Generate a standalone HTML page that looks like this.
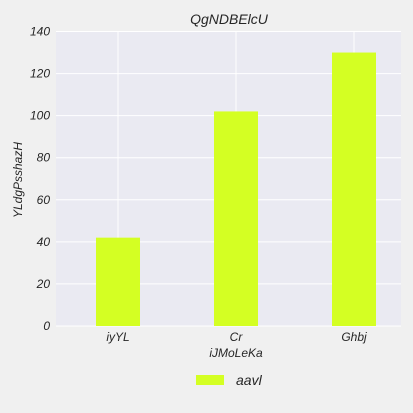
<!DOCTYPE html>
<html><head><meta charset="utf-8"><style>
html,body{margin:0;padding:0;background:#f0f0f0;overflow:hidden;width:413px;height:413px;}
svg{display:block;}
svg text{font-family:"Liberation Sans",sans-serif;font-style:italic;fill:#262626;}
</style></head><body>
<svg id="chart" width="413" height="413" xmlns="http://www.w3.org/2000/svg">
<rect x="0" y="0" width="413" height="413" fill="#f0f0f0"/>
<rect x="56" y="31.5" width="345" height="294.5" fill="#eaeaf2"/>
<g id="grid"></g><g id="bars"></g><g id="ticks"></g>
<text x="229" y="24" text-anchor="middle" font-size="14">QgNDBElcU</text>
<text x="236" y="357" text-anchor="middle" font-size="12">iJMoLeKa</text>
<text transform="translate(22,180) rotate(-90)" text-anchor="middle" font-size="12">YLdgPsshazH</text>
<rect x="196" y="375" width="28" height="10" fill="#d4ff23"/>
<text x="236" y="385" font-size="14">aavl</text>
</svg>
<script>
const categories=["iyYL","Cr","Ghbj"];
const values=[42,102,130];
const yTicks=[0,20,40,60,80,100,120,140];
const NS="http://www.w3.org/2000/svg";
function y(v){return 326-v*(294.5/140);}
function x(i){return 118+118*i;}
const grid=document.getElementById('grid'),bars=document.getElementById('bars'),ticks=document.getElementById('ticks');
function mk(tag,attrs,parent){const e=document.createElementNS(NS,tag);for(const k in attrs)e.setAttribute(k,attrs[k]);parent.appendChild(e);return e;}
yTicks.forEach(t=>{
  const l=mk('line',{x1:56,x2:401,y1:y(t),y2:y(t),stroke:'#ffffff','stroke-width':1},grid);
  
  
  const tx=mk('text',{x:50,y:y(t)+4,'text-anchor':'end','font-size':12},ticks);
  tx.textContent=t;
  
  
});
categories.forEach((c,i)=>{
  const l=mk('line',{x1:x(i),x2:x(i),y1:31.5,y2:326,stroke:'#ffffff','stroke-width':1},grid);
  
  
  const b=mk('rect',{x:x(i)-22,y:y(values[i]),width:44,height:326-y(values[i]),fill:'#d4ff23'},bars);
  
  
  const tx=mk('text',{x:x(i),y:341,'text-anchor':'middle','font-size':12},ticks);
  tx.textContent=c;
  
  
});
</script>
</body></html>
